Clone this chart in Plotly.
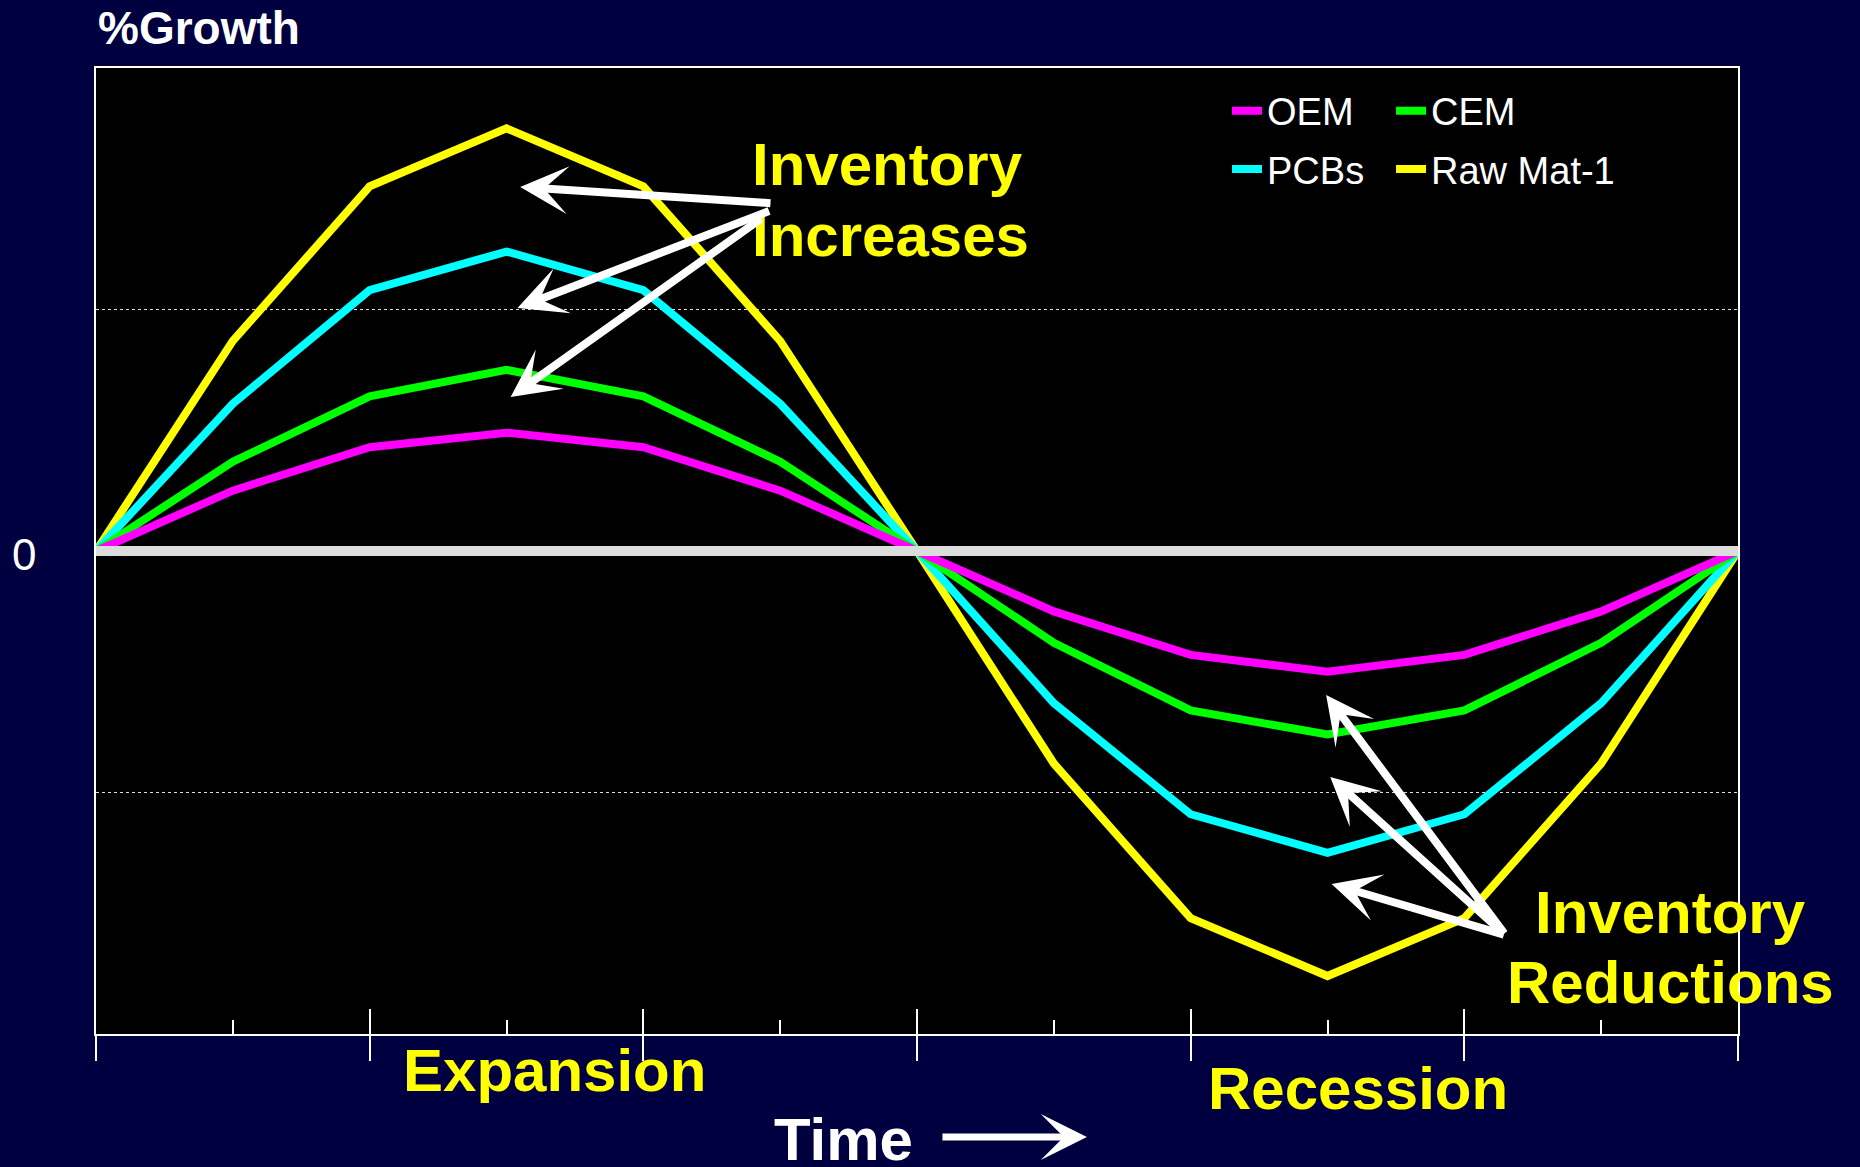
import plotly.graph_objects as go

# ---- data ----
periods = list(range(13))
oem = [0, 0.25, 0.43, 0.49, 0.43, 0.25, 0, -0.25, -0.43, -0.50, -0.43, -0.25, 0]
cem = [0, 0.37, 0.64, 0.75, 0.64, 0.37, 0, -0.38, -0.66, -0.76, -0.66, -0.38, 0]
pcbs = [0, 0.61, 1.08, 1.24, 1.08, 0.61, 0, -0.63, -1.09, -1.25, -1.09, -0.63, 0]
rawmat = [0, 0.87, 1.51, 1.75, 1.51, 0.87, 0, -0.88, -1.52, -1.76, -1.52, -0.88, 0]
major_ticks = [0, 2, 4, 6, 8, 10, 12]
inner_major = [2, 4, 6, 8, 10]
minor_ticks = [1, 3, 5, 7, 9, 11]
grid_vals = [-1, 1]

FONT = "Liberation Sans, Arial, sans-serif"
NAVY = "#000040"

fig = go.Figure()
# (name, values, colour, legend column, rank)
series = [
    ("Raw Mat-1", rawmat, "#FFFF00", "legend2", 2),
    ("PCBs", pcbs, "#00FFFF", "legend", 2),
    ("CEM", cem, "#00FF00", "legend2", 1),
    ("OEM", oem, "#FF00FF", "legend", 1),
]
for name, vals, col, lg, rank in series:
    fig.add_trace(go.Scatter(x=periods, y=vals, mode="lines", name=name,
                             line=dict(color=col, width=8), legend=lg,
                             legendgroup=name, legendrank=rank))

# secondary x axis for inside major ticks
fig.add_trace(go.Scatter(x=[0, 12], y=[None, None], xaxis="x2", showlegend=False, hoverinfo="skip"))

leg_common = dict(orientation="v", yanchor="middle", xanchor="left",
                  bgcolor="rgba(0,0,0,0)", font=dict(size=38, color="white", family=FONT),
                  traceorder="grouped", tracegroupgap=6)

fig.update_layout(
    width=1860, height=1167,
    paper_bgcolor=NAVY, plot_bgcolor="#000000",
    margin=dict(l=96, r=122, t=68, b=133),
    font=dict(family=FONT, color="white"),
    xaxis=dict(range=[0, 12], showgrid=False, zeroline=False,
               tickvals=major_ticks, ticks="outside", ticklen=25, tickwidth=2, tickcolor="white",
               showticklabels=False,
               minor=dict(tickvals=minor_ticks, ticks="inside", ticklen=14, tickwidth=2, tickcolor="white"),
               showline=True, linecolor="white", linewidth=2, mirror=True),
    xaxis2=dict(range=[0, 12], overlaying="x", anchor="y", side="bottom", showgrid=False, zeroline=False,
                tickvals=inner_major, ticks="inside", ticklen=25, tickwidth=2, tickcolor="white",
                showticklabels=False, showline=False),
    yaxis=dict(range=[-2, 2], tickvals=grid_vals, showticklabels=False, ticks="",
               showgrid=True, gridcolor="#dddddd", gridwidth=1, griddash="dot",
               zeroline=False, showline=True, linecolor="white", linewidth=2, mirror=True),
    legend=dict(x=0.6888, y=0.9255, **leg_common),
    legend2=dict(x=0.7887, y=0.9255, **leg_common),
    showlegend=True,
)

# zero line above traces
fig.add_shape(type="line", xref="x", yref="y", x0=0, x1=12, y0=0, y1=0,
              line=dict(color="#dcdcdc", width=10), layer="above")

ann = []
def txt(text, x, y, size, color, bold=True, xanchor="center", xref="paper", yref="paper"):
    ann.append(dict(text=("<b>%s</b>" % text) if bold else text, x=x, y=y, xref=xref, yref=yref,
                    xanchor=xanchor, yanchor="middle", showarrow=False,
                    font=dict(size=size, color=color, family=FONT)))

txt("%Growth", 0.0, 1.0414, 46, "white", xanchor="left")
txt("0", -0.0438, -0.015, 44, "white", bold=False, yref="y", xref="paper")
txt("Inventory", 0.3983, 0.9006, 60, "#FFFF00", xanchor="left")
txt("Increases", 0.3983, 0.8261, 60, "#FFFF00", xanchor="left")
txt("Inventory", 0.959, 0.1253, 60, "#FFFF00")
txt("Reductions", 0.959, 0.0538, 60, "#FFFF00")
txt("Expansion", 0.2795, -0.0383, 60, "#FFFF00")
txt("Recession", 0.7686, -0.0569, 60, "#FFFF00")
txt("Time", 0.455, -0.1087, 60, "white")

def arrow(hx, hy, tx, ty):
    ann.append(dict(text="", x=hx, y=hy, ax=tx, ay=ty, xref="x", yref="y", axref="x", ayref="y",
                    showarrow=True, arrowhead=3, arrowsize=1.0, arrowwidth=8, arrowcolor="white",
                    standoff=0, startstandoff=0))

arrow(3.10, 1.507, 4.94, 1.44)
arrow(3.08, 1.006, 4.93, 1.41)
arrow(3.03, 0.638, 4.87, 1.38)
arrow(8.99, -0.596, 10.30, -1.59)
arrow(9.02, -0.936, 10.30, -1.59)
arrow(9.03, -1.379, 10.30, -1.59)

ann.append(dict(text="", x=0.6035, y=-0.1066, xref="paper", yref="paper", ax=-146, ay=0,
                showarrow=True, arrowhead=3, arrowsize=1.1, arrowwidth=7, arrowcolor="white"))

fig.update_layout(annotations=ann)

fig.write_html("out.html", config={"displayModeBar": False},
               post_script="document.body.style.margin='0';document.body.style.overflow='hidden';")
